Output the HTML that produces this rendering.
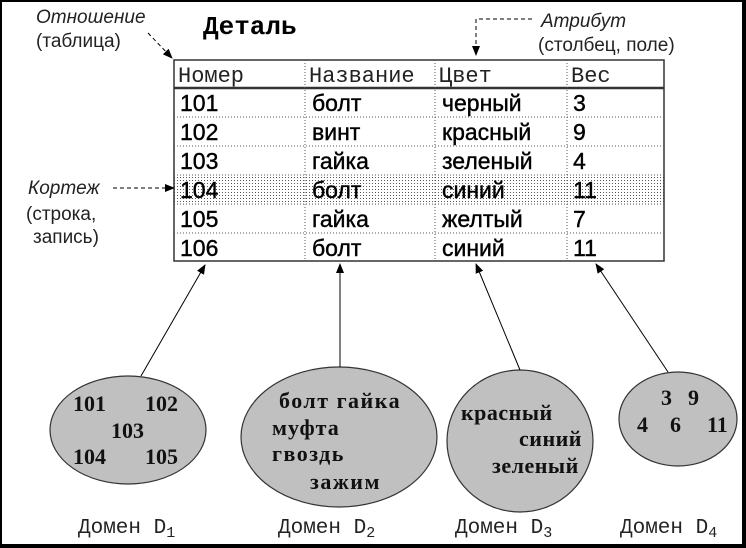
<!DOCTYPE html>
<html><head><meta charset="utf-8"><style>
html,body{margin:0;padding:0;background:#fff}
svg{display:block}
.m{font-family:"Liberation Mono",monospace}
.s{font-family:"Liberation Sans",sans-serif}
.r{font-family:"Liberation Serif",serif;font-weight:bold;font-size:22px}
</style></head><body>
<svg width="746" height="548" viewBox="0 0 746 548" xmlns="http://www.w3.org/2000/svg">
<defs>
<pattern id="dots" width="3" height="3" patternUnits="userSpaceOnUse"><rect x="0" y="0" width="1" height="1" fill="#555"/></pattern>
<marker id="ar" markerWidth="10" markerHeight="8" refX="9" refY="4" orient="auto" markerUnits="userSpaceOnUse"><path d="M0,0 L10,4 L0,8 z" fill="#000"/></marker>
</defs>
<rect x="0" y="0" width="746" height="548" fill="#fff"/>
<rect x="0" y="0" width="746" height="2" fill="#000"/>
<rect x="0" y="0" width="2" height="548" fill="#000"/>
<rect x="742" y="0" width="4" height="548" fill="#000"/>
<rect x="0" y="544" width="746" height="4" fill="#000"/>

<rect x="174" y="175" width="490" height="29" fill="url(#dots)"/>
<rect x="174" y="60" width="490" height="201" fill="none" stroke="#333" stroke-width="1.5"/>
<line x1="174" y1="88" x2="664" y2="88" stroke="#333" stroke-width="2.5"/>
<g stroke="#555" stroke-width="1" stroke-dasharray="1,2">
<line x1="174" y1="117" x2="664" y2="117"/><line x1="174" y1="146" x2="664" y2="146"/>
<line x1="174" y1="175" x2="664" y2="175"/><line x1="174" y1="204" x2="664" y2="204"/>
<line x1="174" y1="233" x2="664" y2="233"/>
<line x1="305" y1="60" x2="305" y2="261"/><line x1="435" y1="60" x2="435" y2="261"/><line x1="567" y1="60" x2="567" y2="261"/>
</g>
<g class="m" font-size="22" fill="#222">
<text x="178" y="82">Номер</text><text x="309" y="82">Название</text><text x="439" y="82">Цвет</text><text x="571" y="82">Вес</text>
</g>
<text class="m" x="203" y="34" font-size="26" font-weight="bold">Деталь</text>
<g class="s" font-size="23" fill="#000" stroke="#000" stroke-width="0.4">
<text x="180" y="111">101</text><text x="312" y="111">болт</text><text x="442" y="111">черный</text><text x="573" y="111">3</text>
<text x="180" y="140">102</text><text x="312" y="140">винт</text><text x="442" y="140">красный</text><text x="573" y="140">9</text>
<text x="180" y="169">103</text><text x="312" y="169">гайка</text><text x="442" y="169">зеленый</text><text x="573" y="169">4</text>
<text x="180" y="198">104</text><text x="312" y="198">болт</text><text x="442" y="198">синий</text><text x="573" y="198">11</text>
<text x="180" y="227">105</text><text x="312" y="227">гайка</text><text x="442" y="227">желтый</text><text x="573" y="227">7</text>
<text x="180" y="256">106</text><text x="312" y="256">болт</text><text x="442" y="256">синий</text><text x="573" y="256">11</text>
</g>

<g class="s" font-size="19" fill="#222">
<text x="36" y="23" font-style="italic">Отношение</text>
<text x="36" y="47">(таблица)</text>
<text x="28" y="194" font-style="italic">Кортеж</text>
<text x="26" y="220">(строка,</text>
<text x="33" y="243">запись)</text>
<text x="541" y="27" font-style="italic">Атрибут</text>
<text x="538" y="51">(столбец, поле)</text>
</g>
<g stroke="#000" stroke-width="1" stroke-dasharray="4,3" fill="none">
<line x1="148" y1="33" x2="172" y2="58" marker-end="url(#ar)"/>
<line x1="113" y1="188" x2="174" y2="188" marker-end="url(#ar)"/>
<polyline points="532,19 476,19 476,55" marker-end="url(#ar)"/>
</g>

<g fill="#c0c0c0" stroke="#333" stroke-width="1.2">
<ellipse cx="128" cy="430" rx="78" ry="54"/>
<ellipse cx="339" cy="437" rx="98" ry="70"/>
<ellipse cx="520" cy="441" rx="73" ry="71"/>
<ellipse cx="678" cy="419" rx="59" ry="47"/>
</g>
<g stroke="#000" stroke-width="1" fill="none">
<line x1="141" y1="376" x2="205" y2="265" marker-end="url(#ar)"/>
<line x1="340" y1="367" x2="340" y2="264" marker-end="url(#ar)"/>
<line x1="520" y1="370" x2="476" y2="264" marker-end="url(#ar)"/>
<line x1="668" y1="372" x2="596" y2="264" marker-end="url(#ar)"/>
</g>
<g class="r" fill="#111">
<text x="73" y="411">101</text><text x="145" y="411">102</text>
<text x="111" y="438">103</text>
<text x="73" y="464">104</text><text x="145" y="464">105</text>
<text x="279" y="408" letter-spacing="1.5">болт гайка</text>
<text x="272" y="435" letter-spacing="1">муфта</text>
<text x="272" y="461" letter-spacing="1.5">гвоздь</text>
<text x="310" y="489" letter-spacing="1.5">зажим</text>
<text x="461" y="420" letter-spacing="0.5">красный</text>
<text x="519" y="446" letter-spacing="0.5">синий</text>
<text x="492" y="473" letter-spacing="0.5">зеленый</text>
<text x="661" y="405">3</text><text x="688" y="405">9</text>
<text x="637" y="432">4</text><text x="670" y="432">6</text><text x="707" y="432">11</text>
</g>
<g class="m" font-size="21" fill="#222">
<text x="78" y="533">Домен D<tspan font-size="15" dy="4">1</tspan></text>
<text x="278" y="533">Домен D<tspan font-size="15" dy="4">2</tspan></text>
<text x="455" y="533">Домен D<tspan font-size="15" dy="4">3</tspan></text>
<text x="620" y="533">Домен D<tspan font-size="15" dy="4">4</tspan></text>
</g>
</svg>
</body></html>
